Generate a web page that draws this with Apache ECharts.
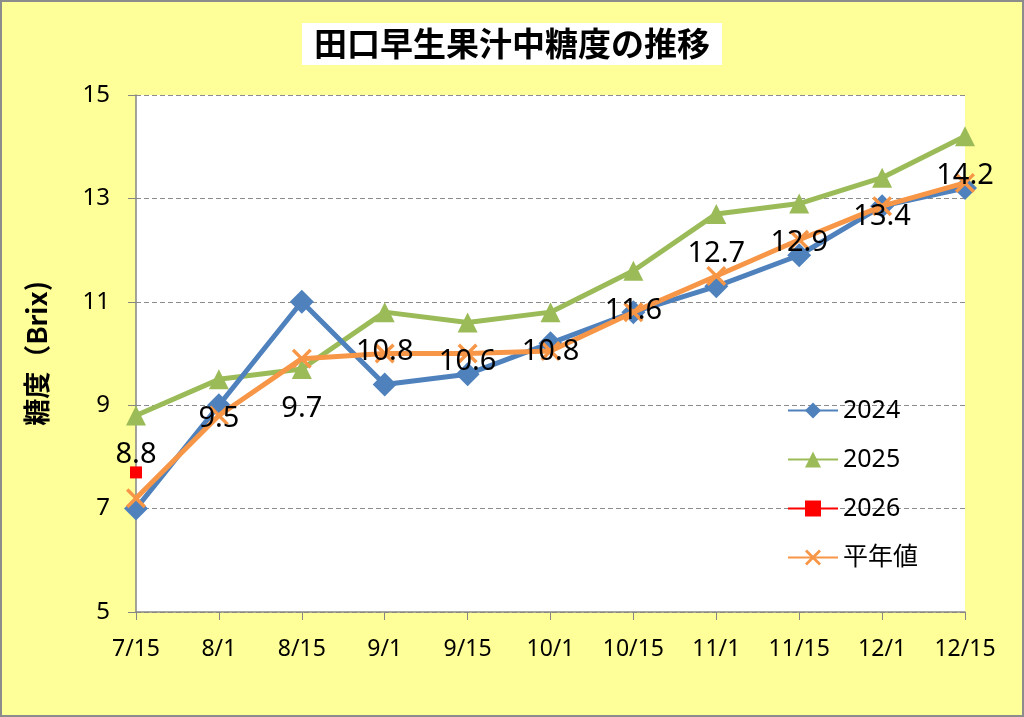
<!DOCTYPE html>
<html><head><meta charset="utf-8">
<script src="https://cdn.jsdelivr.net/npm/echarts@6/dist/echarts.min.js"></script>
<style>
html,body{margin:0;padding:0;background:#fff;}
#c{width:1024px;height:717px;box-sizing:border-box;border:2px solid #8c8c8c;background:#FFFF99;}
</style></head><body>
<div id="c"></div>
<script>
const categories = ['7/15','8/1','8/15','9/1','9/15','10/1','10/15','11/1','11/15','12/1','12/15'];
const s2024 = [7.0, 9.0, 11.0, 9.4, 9.6, 10.2, 10.8, 11.3, 11.9, 12.85, 13.2];
const s2025 = [8.8, 9.5, 9.7, 10.8, 10.6, 10.8, 11.6, 12.7, 12.9, 13.4, 14.2];
const s2026 = [7.7, null, null, null, null, null, null, null, null, null, null];
const sAvg  = [7.2, 8.8, 9.9, 10.0, 10.0, 10.05, 10.8, 11.5, 12.2, 12.85, 13.3];
const yTicks = {min: 5, max: 15, interval: 2};

const xSym = 'path://M0,1.2L1.2,0L10,8.8L8.8,10Z M8.8,0L10,1.2L1.2,10L0,8.8Z';
const font = '"Noto Sans","Noto Sans CJK JP",sans-serif';
const cjk = '"Noto Sans CJK JP",sans-serif';
const chart = echarts.init(document.getElementById('c'));
chart.setOption({
  backgroundColor: 'transparent',
  animation: false,
  textStyle: {fontFamily: font},
  title: {
    text: '田口早生果汁中糖度の推移',
    left: 'center', top: 21,
    backgroundColor: '#fff',
    padding: [4, 12, 5, 12],
    textStyle: {fontSize: 33, fontWeight: 'bold', color: '#000', fontFamily: cjk}
  },
  grid: {left: 134, right: 57, top: 93, bottom: 103, show: true, backgroundColor: '#fff', borderWidth: 0},
  legend: {
    orient: 'vertical', left: 780, top: 391,
    itemWidth: 50, itemHeight: 20, itemGap: 24,
    textStyle: {fontSize: 25, color: '#000', fontFamily: font},
    data: ['2024','2025','2026','平年値']
  },
  xAxis: {
    type: 'category', data: categories, boundaryGap: false,
    axisLine: {lineStyle: {color: '#868686', width: 1.5}},
    axisTick: {show: true, length: 8, interval: 0, lineStyle: {color: '#868686'}},
    axisLabel: {fontSize: 23, color: '#000', margin: 26, interval: 0, fontFamily: font}
  },
  yAxis: {
    type: 'value', min: yTicks.min, max: yTicks.max, interval: yTicks.interval,
    name: '糖度（Brix)', nameLocation: 'middle', nameGap: 86, nameRotate: 90,
    nameTextStyle: {fontSize: 27, fontWeight: 'bold', color: '#000', fontFamily: cjk, padding: [0, 0, 0, 0]},
    axisLine: {show: true, lineStyle: {color: '#868686', width: 1.5}},
    axisTick: {show: true, length: 8, lineStyle: {color: '#868686'}},
    axisLabel: {fontSize: 24, color: '#000', margin: 26, fontFamily: font},
    splitLine: {show: true, lineStyle: {color: '#8c8c8c', type: [5, 3], width: 1}}
  },
  series: [
    {name: '2024', type: 'line', data: s2024, symbol: 'diamond', symbolSize: 24,
     lineStyle: {color: '#4F81BD', width: 5}, itemStyle: {color: '#4F81BD'}, z: 3},
    {name: '2025', type: 'line', data: s2025, symbol: 'triangle', symbolSize: 20,
     lineStyle: {color: '#9BBB59', width: 5}, itemStyle: {color: '#9BBB59'}, z: 2},
    {name: '2026', type: 'line', data: s2026, symbol: 'rect', symbolSize: 12,
     lineStyle: {color: '#FF0000', width: 5}, itemStyle: {color: '#FF0000'}, z: 5},
    {name: '平年値', type: 'line', data: sAvg, symbol: xSym, symbolSize: 20,
     lineStyle: {color: '#F79646', width: 5}, itemStyle: {color: '#F79646'}, z: 4},
    {name: '2025label', type: 'line', data: s2025, symbol: 'triangle', symbolSize: 20,
     lineStyle: {opacity: 0, width: 0}, itemStyle: {color: 'rgba(0,0,0,0)'}, z: 10, silent: true,
     label: {show: true, position: 'bottom', distance: 15, fontSize: 29, color: '#000', fontFamily: font}}
  ]
});
</script>
</body></html>
